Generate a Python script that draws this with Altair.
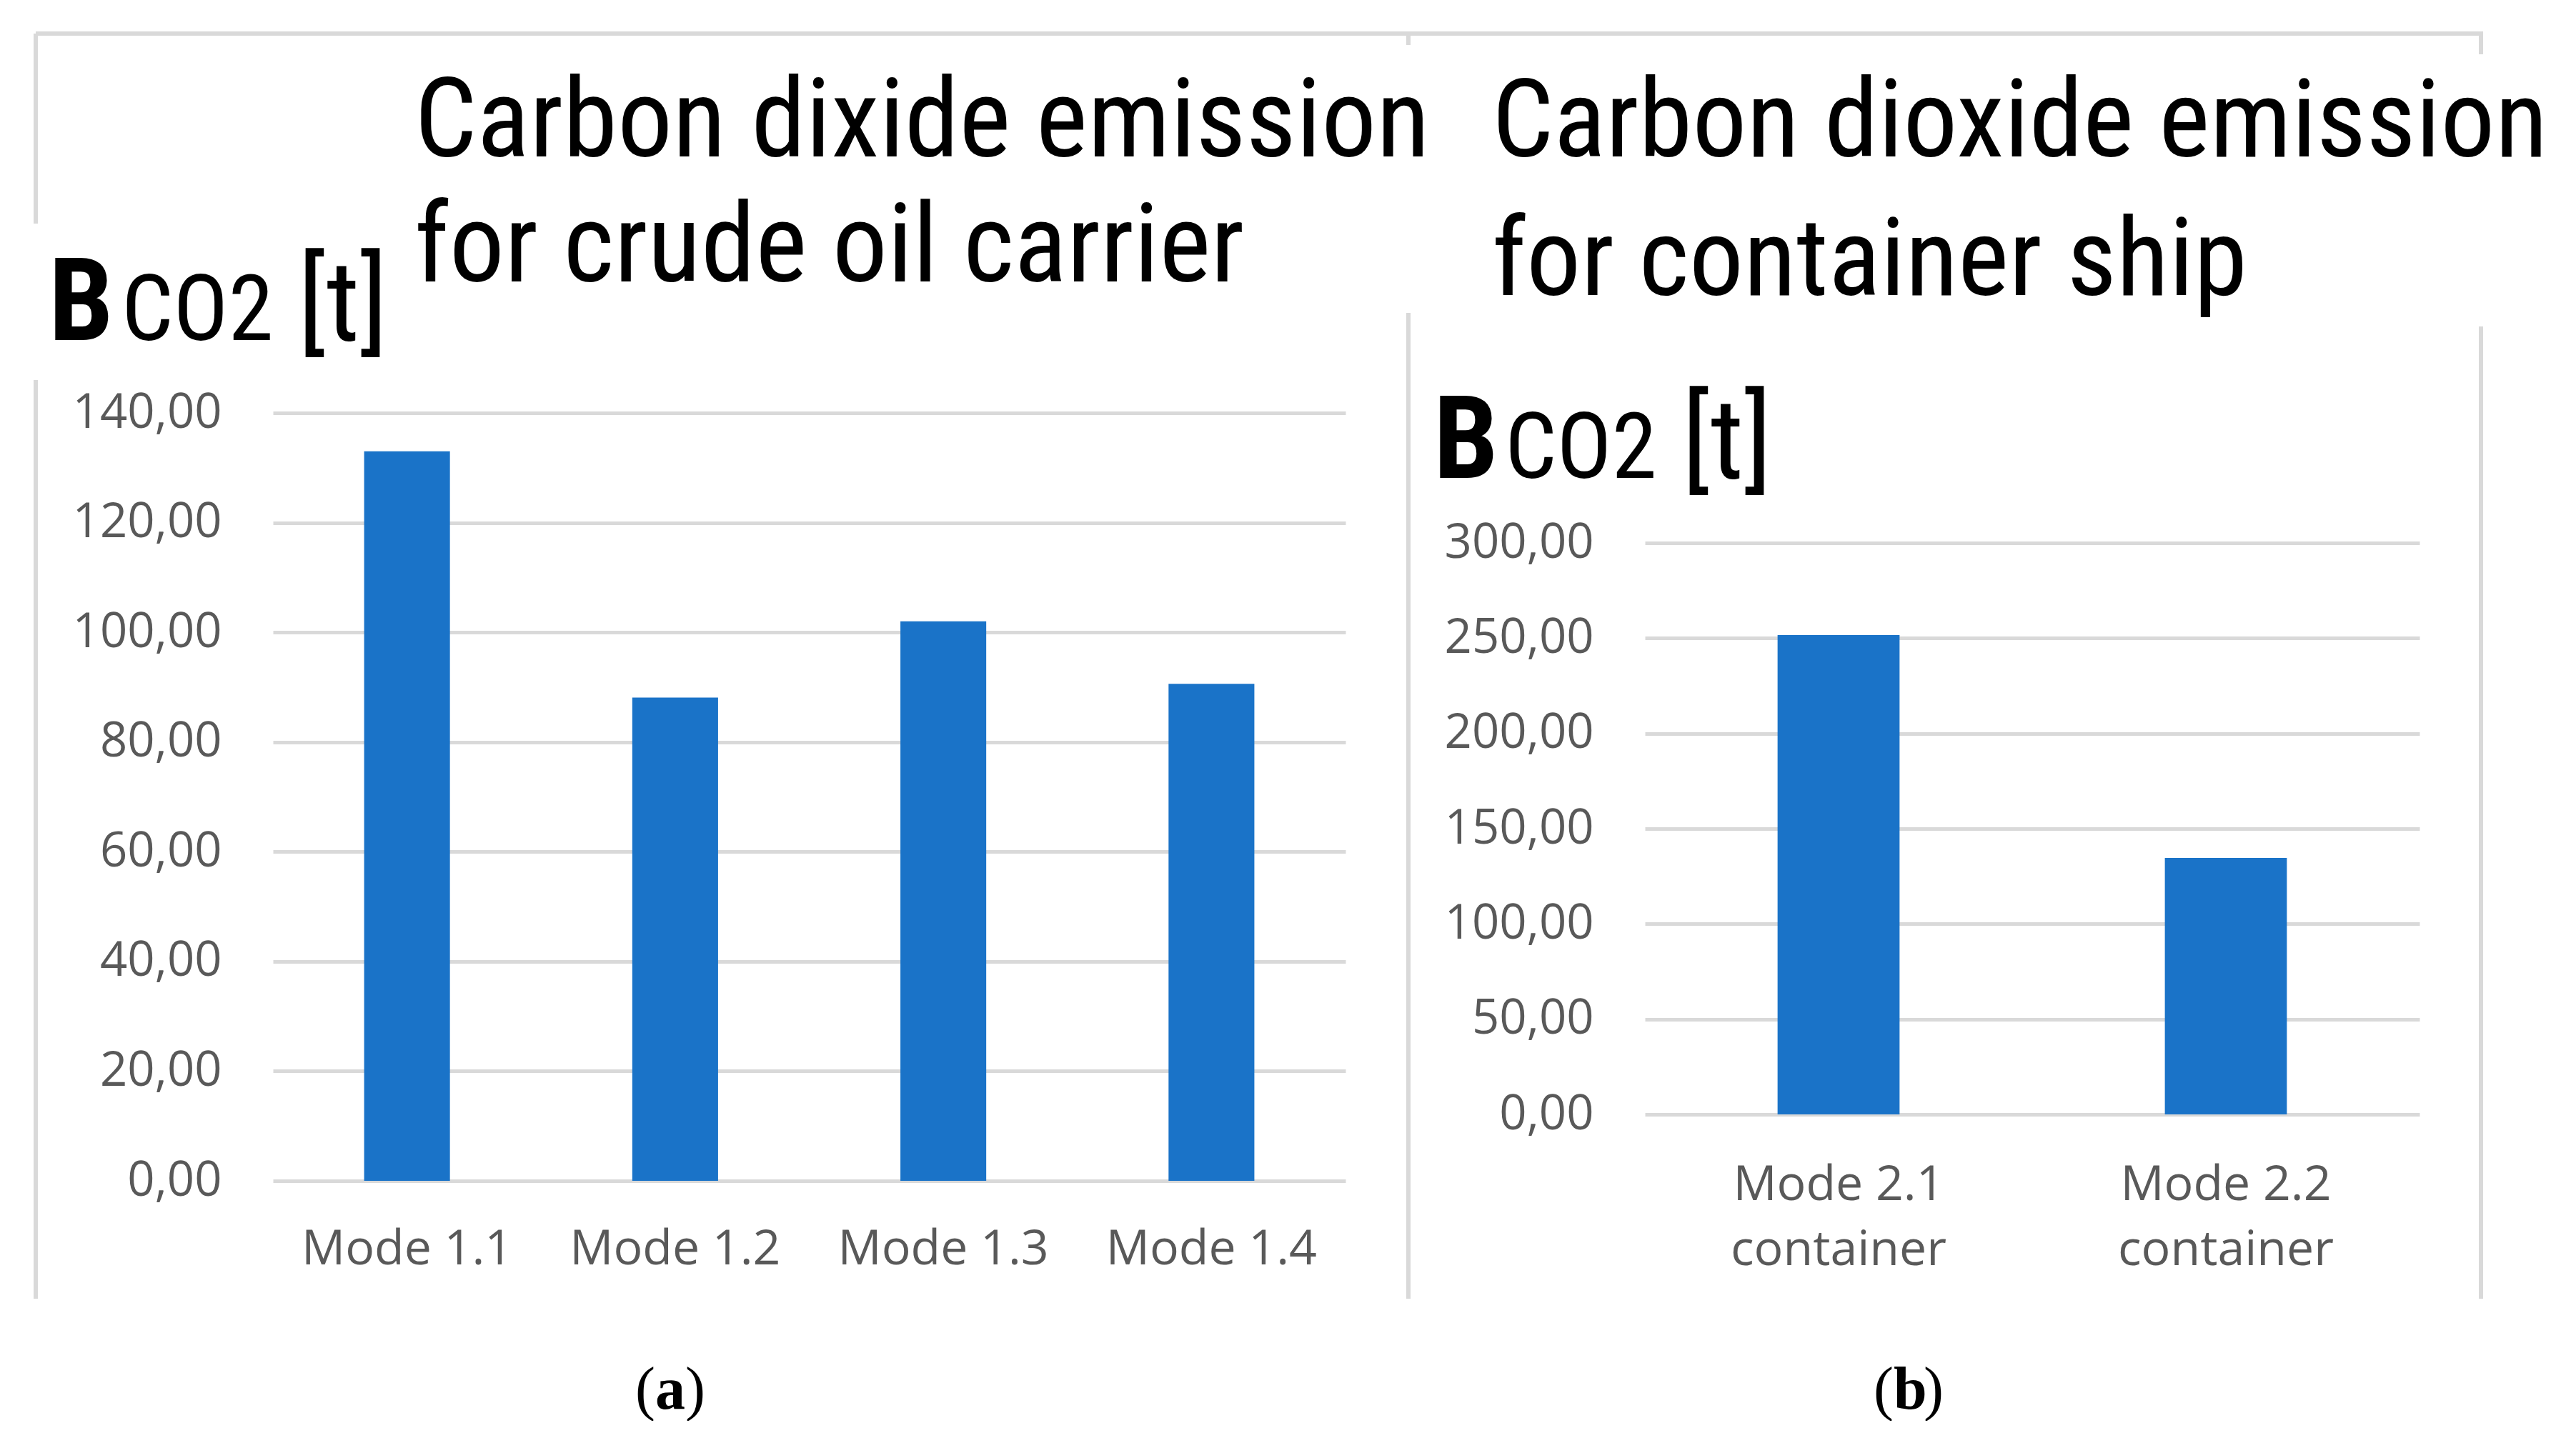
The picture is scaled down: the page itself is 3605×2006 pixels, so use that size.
import altair as alt
import pandas as pd

# ---- data ----
oil_modes = ["Mode 1.1", "Mode 1.2", "Mode 1.3", "Mode 1.4"]
oil_values = [133.0, 88.1, 102.0, 90.6]
oil_ticks = [0, 20, 40, 60, 80, 100, 120, 140]

container_modes = ["Mode 2.1\ncontainer", "Mode 2.2\ncontainer"]
container_values = [251.6, 134.6]
container_ticks = [0, 50, 100, 150, 200, 250, 300]

title_a = ["Carbon dixide emission", "for crude oil carrier"]
title_b = ["Carbon dioxide emission", "for container ship"]

BLUE = "#1a73c8"
GRID = "#d9d9d9"
LABEL = "#595959"
NARROW = "Roboto Condensed, Noto Sans Condensed, Liberation Sans Narrow, DejaVu Sans Condensed, Liberation Sans"
SANS = "Open Sans"
SERIF = "Liberation Serif"

one = pd.DataFrame({"k": [0]})
fmt = "replace(format(datum.value, '.2f'), '.', ',')"


def hline(x1, x2, y):
    return alt.Chart(one).mark_rule(color=GRID, strokeWidth=6).encode(
        x=alt.value(x1), x2=alt.value(x2), y=alt.value(y))


def vline(x, y1, y2):
    return alt.Chart(one).mark_rule(color=GRID, strokeWidth=6).encode(
        x=alt.value(x), y=alt.value(y1), y2=alt.value(y2))


def label(text, x, y, size, font=NARROW, weight="normal", align="left", limit=0):
    kw = dict(text=text, font=font, fontSize=size, fontWeight=weight,
              align=align, baseline="alphabetic", color="black")
    if limit:
        kw["limit"] = limit
    return alt.Chart(one).mark_text(**kw).encode(x=alt.value(x), y=alt.value(y))


def caption(letter, x_left, y):
    # "(", bold letter, ")"
    return [
        label("(", x_left, y, 84, font=SERIF),
        label(letter, x_left + 28, y, 84, font=SERIF, weight="bold"),
        label(")", x_left + 28 + 42, y, 84, font=SERIF),
    ]


def y_axis(ticks):
    return alt.Axis(values=ticks, title=None, domain=False, ticks=False, tickSize=0,
                    labelPadding=72, labelFontSize=67, labelFont=SANS, labelColor=LABEL,
                    labelLimit=600, gridColor=GRID, gridWidth=5, labelExpr=fmt)


# ---- panel (a) ----
df_a = pd.DataFrame({"mode": oil_modes, "value": oil_values})
bars_a = alt.Chart(df_a).mark_bar(color=BLUE).encode(
    x=alt.X("mode:N", sort=None,
            scale=alt.Scale(paddingInner=0.68, paddingOuter=0.34),
            axis=alt.Axis(title=None, domain=False, ticks=False, tickSize=0, labelAngle=0,
                          labelPadding=62, labelFontSize=68, labelFont=SANS,
                          labelColor=LABEL, labelLimit=600, grid=False)),
    y=alt.Y("value:Q", scale=alt.Scale(domain=[0, 140], nice=False),
            axis=y_axis(oil_ticks)),
)

panel_a = alt.layer(
    bars_a,
    hline(-332, 1589, -531),
    vline(-332, -531, -265),
    vline(-332, -46, 1240),
    label(title_a[0], 198, -359, 154, limit=1600),
    label(title_a[1], 198, -184, 154),
    label("B", -314, -102, 162, weight="bold"),
    label("CO2", -212, -102, 128),
    label("[t]", 35, -102, 158),
    *caption("a", 507, 1394),
).properties(width=1501, height=1075)

# ---- panel (b) ----
df_b = pd.DataFrame({"mode": container_modes, "value": container_values})
bars_b = alt.Chart(df_b).mark_bar(color=BLUE).encode(
    x=alt.X("mode:N", sort=None,
            scale=alt.Scale(paddingInner=0.685, paddingOuter=0.3425),
            axis=alt.Axis(title=None, domain=False, ticks=False, tickSize=0, labelAngle=0,
                          labelPadding=65, labelFontSize=68, labelFont=SANS,
                          labelColor=LABEL, labelLimit=600, grid=False, labelLineHeight=91,
                          labelExpr="split(datum.label, '\\n')")),
    y=alt.Y("value:Q", scale=alt.Scale(domain=[0, 368.25], nice=False),
            axis=y_axis(container_ticks)),
)

panel_b = alt.layer(
    bars_b,
    hline(-331, 1173, -531),
    vline(-331, -531, -515),
    vline(-331, -140, 1240),
    vline(1170, -531, -502),
    vline(1170, -121, 1240),
    label(title_b[0], -214, -359, 152, limit=1580),
    label(title_b[1], -214, -165, 152),
    label("B", -296, 91, 162, weight="bold"),
    label("CO2", -196, 91, 128),
    label("[t]", 52, 91, 158),
    *caption("b", 320, 1394),
).properties(width=1084, height=982)

chart = alt.hconcat(panel_a, panel_b, spacing=419, bounds="flush").properties(
    padding={"left": 39, "top": 36, "right": 0, "bottom": 0}
).configure_view(strokeWidth=0)

chart.save("out.html", embed_options={"renderer": "svg", "actions": False})
